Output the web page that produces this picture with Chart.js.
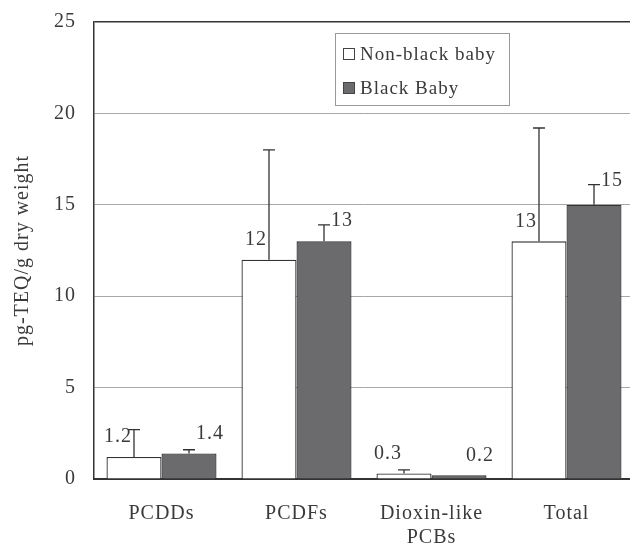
<!DOCTYPE html>
<html>
<head>
<meta charset="utf-8">
<script src="https://cdn.jsdelivr.net/npm/chart.js@4.4.1/dist/chart.umd.min.js"></script>
<style>
  html, body { margin: 0; padding: 0; background: #fff; overflow: hidden; }
  #wrap { width: 640px; height: 552px; }
</style>
</head>
<body>
<div id="wrap"><canvas id="teqChart" width="640" height="552"></canvas></div>
<script>
// data
const categories = ['PCDDs', 'PCDFs', ['Dioxin-like', 'PCBs'], 'Total'];
const nonBlackValues = [1.2, 12, 0.3, 13];
const blackValues = [1.4, 13, 0.2, 15];
const nonBlackUpper = [2.7, 18.0, 0.5, 19.2]; // top of error bar
const blackUpper = [1.6, 13.9, 0.2, 16.1];
const nonBlackLabels = ['1.2', '12', '0.3', '13'];
const blackLabels = ['1.4', '13', '0.2', '15'];
const yTicks = [0, 5, 10, 15, 20, 25];

const textColor = '#3a3a3a';
const serif = 'Liberation Serif';
Chart.defaults.font.family = serif;
Chart.defaults.color = textColor;

// letter spacing gets reset whenever the canvas is resized, so set it before layout and draw
const spacingPlugin = {
    id: 'spacing',
    beforeLayout(chart) { chart.ctx.letterSpacing = '1px'; },
    beforeDraw(chart) { chart.ctx.letterSpacing = '1px'; }
};

// upward-only error bars + value labels
const errorPlugin = {
    id: 'errorBars',
    afterDatasetsDraw(chart) {
        const ctx = chart.ctx;
        const y = chart.scales.y;
        const uppers = [nonBlackUpper, blackUpper];
        const labels = [nonBlackLabels, blackLabels];
        ctx.save();
        ctx.letterSpacing = '1px';
        ctx.strokeStyle = '#333';
        ctx.lineWidth = 1.3;
        ctx.font = '20px "' + serif + '"';
        ctx.fillStyle = textColor;
        ctx.textBaseline = 'middle';
        for (let d = 0; d < 2; d++) {
            const meta = chart.getDatasetMeta(d);
            meta.data.forEach((bar, i) => {
                const topY = y.getPixelForValue(uppers[d][i]);
                const x = bar.x;
                if (topY < bar.y - 1) {
                    ctx.beginPath();
                    ctx.moveTo(x, bar.y);
                    ctx.lineTo(x, topY);
                    ctx.moveTo(x - 6, topY);
                    ctx.lineTo(x + 6, topY);
                    ctx.stroke();
                }
                if (d === 0) {
                    ctx.textAlign = 'right';
                    ctx.fillText(labels[d][i], x - 2, bar.y - 20);
                } else {
                    ctx.textAlign = 'left';
                    ctx.fillText(labels[d][i], x + 7, Math.min(topY - 4, bar.y - 20));
                }
            });
        }
        ctx.restore();
    }
};

// boxed legend inside the plot
const legendPlugin = {
    id: 'boxLegend',
    afterDraw(chart) {
        const ctx = chart.ctx;
        ctx.save();
        ctx.letterSpacing = '1px';
        ctx.strokeStyle = '#999';
        ctx.lineWidth = 1;
        ctx.strokeRect(335.5, 33.5, 174, 72);
        ctx.font = '19px "' + serif + '"';
        ctx.textAlign = 'left';
        ctx.textBaseline = 'middle';
        chart.data.datasets.forEach((ds, i) => {
            const cy = 54 + i * 34;
            ctx.fillStyle = ds.backgroundColor;
            ctx.fillRect(343, cy - 6, 12, 12);
            ctx.strokeStyle = '#444';
            ctx.lineWidth = 1;
            ctx.strokeRect(343.5, cy - 5.5, 11, 11);
            ctx.fillStyle = textColor;
            ctx.fillText(ds.label, 360, cy + 1);
        });
        ctx.restore();
    }
};

const teqChart = new Chart(document.getElementById('teqChart').getContext('2d'), {
    type: 'bar',
    data: {
        labels: categories,
        datasets: [
            {
                label: 'Non-black baby',
                data: nonBlackValues,
                backgroundColor: '#ffffff',
                borderColor: '#333',
                borderWidth: 1.3,
                borderSkipped: 'bottom'
            },
            {
                label: 'Black Baby',
                data: blackValues,
                backgroundColor: '#6b6b6d',
                borderColor: '#333',
                borderWidth: 1.3,
                borderSkipped: 'bottom'
            }
        ]
    },
    options: {
        responsive: false,
        animation: false,
        devicePixelRatio: 1,
        layout: { padding: { top: 22, right: 6, left: 0, bottom: 0 } },
        categoryPercentage: 0.815,
        barPercentage: 1.0,
        plugins: {
            legend: { display: false },
            tooltip: { enabled: false }
        },
        scales: {
            x: {
                grid: { display: false, drawTicks: false },
                border: { color: '#333', width: 2 },
                ticks: {
                    color: textColor,
                    font: { size: 20 },
                    padding: 23,
                    maxRotation: 0,
                    autoSkip: false
                },
                afterFit(scale) { scale.height = 73; }
            },
            y: {
                min: 0,
                max: 25,
                afterBuildTicks(scale) { scale.ticks = yTicks.map(v => ({ value: v })); },
                grid: {
                    drawTicks: false,
                    color: ctx => (ctx.tick && ctx.tick.value === 25) ? '#333' : '#a8a8a8',
                    lineWidth: ctx => (ctx.tick && ctx.tick.value === 25) ? 1.5 : 1
                },
                border: { color: '#333', width: 1.5 },
                ticks: {
                    color: textColor,
                    font: { size: 20 },
                    padding: 18
                },
                title: {
                    display: true,
                    text: 'pg-TEQ/g dry weight',
                    color: textColor,
                    font: { size: 20 },
                    padding: { top: 11, bottom: 0 }
                },
                afterFit(scale) {
                    scale.width = 94;
                    scale.paddingTop = 0;
                    scale.paddingBottom = 0;
                }
            }
        }
    },
    plugins: [spacingPlugin, errorPlugin, legendPlugin]
});
</script>
</body>
</html>
